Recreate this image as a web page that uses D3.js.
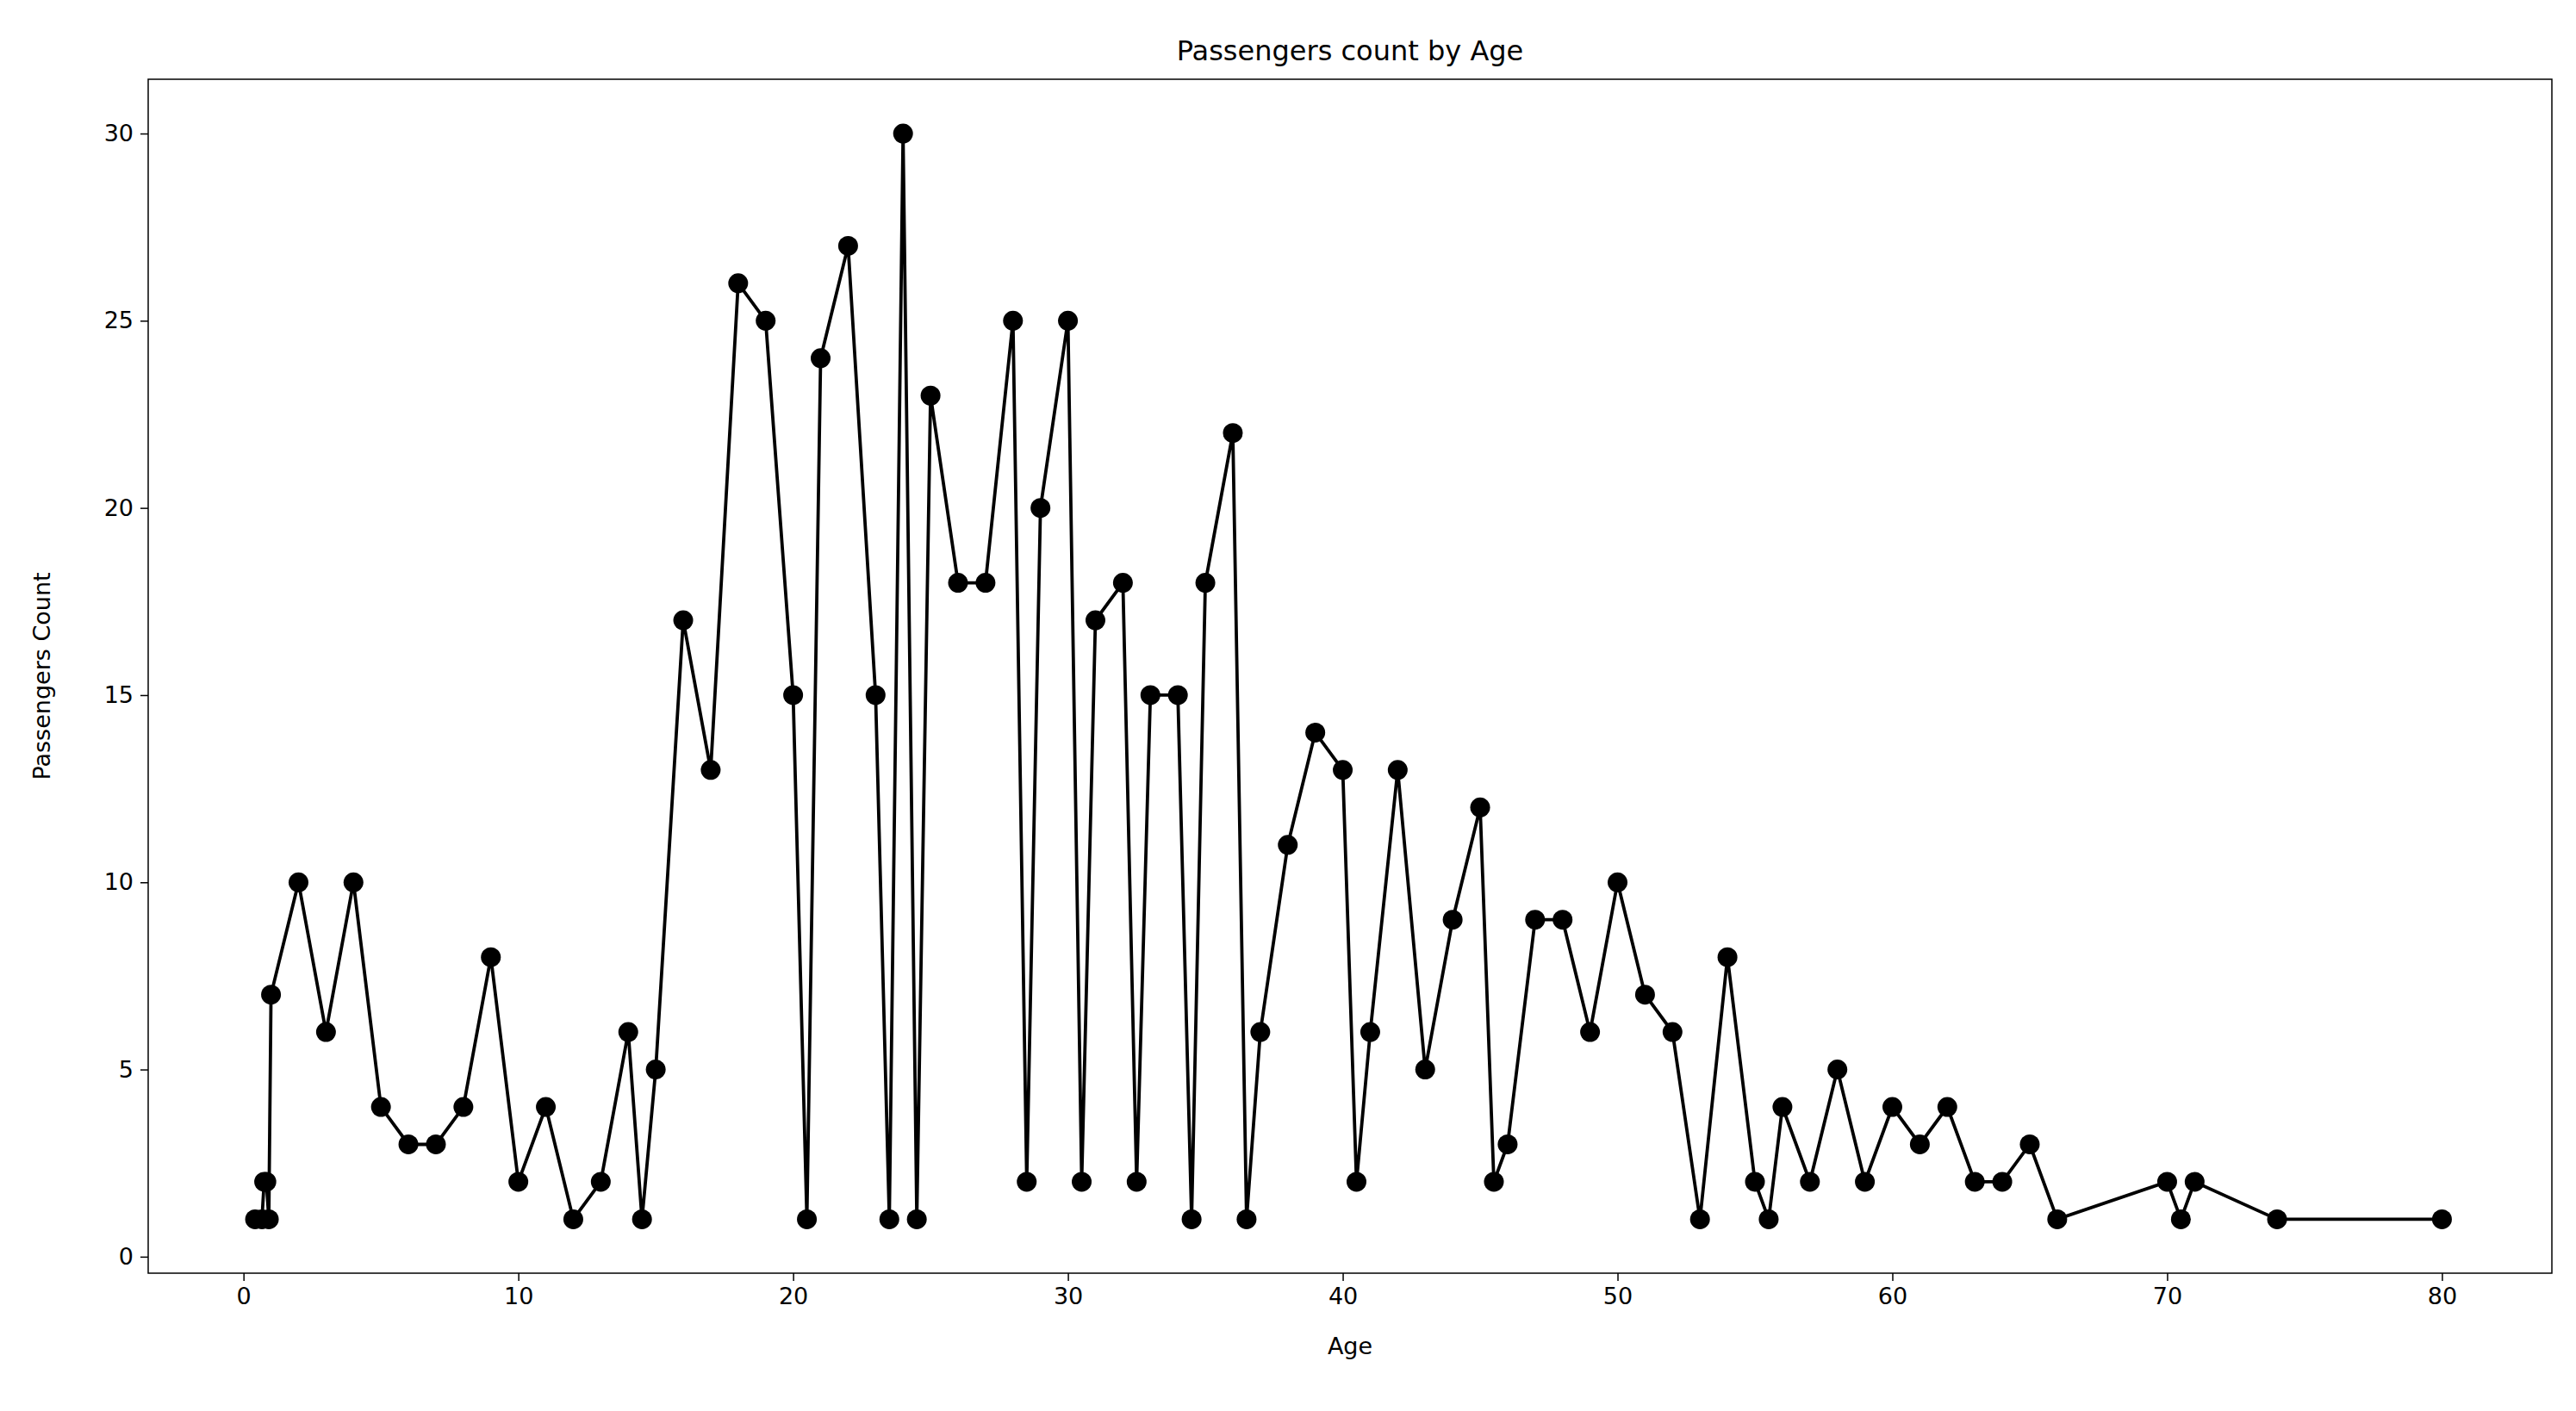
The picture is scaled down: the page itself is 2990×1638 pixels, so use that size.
<!DOCTYPE html>
<html><head><meta charset="utf-8">
<script src="https://cdn.jsdelivr.net/npm/d3@7"></script>
<style>body{margin:0;background:#fff}text{font-family:"DejaVu Sans",sans-serif}</style>
</head><body><svg id="chart"></svg>
<script>
// Age -> passenger count
let ages = [0.42,0.67,0.75,0.83,0.92,1,2,3,4,5,6,7,8,9,10,11,12,13,14,14.5,15,16,17,18,19,20,20.5,21,22,23,23.5,24,24.5,25,26,27,28,28.5,29,30,30.5,31,32,32.5,33,34,34.5,35,36,36.5,37,38,39,40,40.5,41,42,43,44,45,45.5,46,47,48,49,50,51,52,53,54,55,55.5,56,57,58,59,60,61,62,63,64,65,66,70,70.5,71,74,80];
let counts = [1,1,2,2,1,7,10,6,10,4,3,3,4,8,2,4,1,2,6,1,5,17,13,26,25,15,1,24,27,15,1,30,1,23,18,18,25,2,20,25,2,17,18,2,15,15,1,18,22,1,6,11,14,13,2,6,13,5,9,12,2,3,9,9,6,10,7,6,1,8,2,1,4,2,5,2,4,3,4,2,2,3,1,2,1,2,1,1];
let xTicks = [0,10,20,30,40,50,60,70,80];
let yTicks = [0,5,10,15,20,25,30];

let width = 2990, height = 1638;
let m = {left: 172, right: 28, top: 92, bottom: 160};
let svg = d3.select("#chart").attr("width", width).attr("height", height);

let x = d3.scaleLinear().domain([-3.47, 84.0]).range([m.left, width - m.right]);
let y = d3.scaleLinear().domain([-0.44, 31.45]).range([height - m.bottom, m.top]);

let xAxis = svg.append("g")
    .attr("transform", "translate(0," + (height - m.bottom) + ")")
    .call(d3.axisBottom(x).tickValues(xTicks).tickSize(9).tickPadding(8));
let yAxis = svg.append("g")
    .attr("transform", "translate(" + m.left + ",0)")
    .call(d3.axisLeft(y).tickValues(yTicks).tickSize(9).tickPadding(8));
[xAxis, yAxis].forEach(function (g) {
    g.select(".domain").remove();
    g.selectAll("line").attr("stroke", "#000").attr("stroke-width", 1.5);
    g.selectAll("text").attr("font-size", 27).attr("fill", "#000");
});

// Frame
svg.append("rect")
    .attr("x", m.left).attr("y", m.top)
    .attr("width", width - m.left - m.right)
    .attr("height", height - m.top - m.bottom)
    .attr("fill", "none").attr("stroke", "#000").attr("stroke-width", 1.5);

let data = ages.map(function (a, i) { return [a, counts[i]]; });

svg.append("path")
    .datum(data)
    .attr("fill", "none").attr("stroke", "#000").attr("stroke-width", 3.8)
    .attr("d", d3.line().x(function (d) { return x(d[0]); }).y(function (d) { return y(d[1]); }));

svg.append("g").selectAll("circle")
    .data(data).enter().append("circle")
    .attr("cx", function (d) { return x(d[0]); })
    .attr("cy", function (d) { return y(d[1]); })
    .attr("r", 11.5).attr("fill", "#000");

svg.append("text").attr("x", (m.left + width - m.right) / 2).attr("y", m.top - 22)
    .attr("text-anchor", "middle").attr("font-size", 32).text("Passengers count by Age");
svg.append("text").attr("x", (m.left + width - m.right) / 2).attr("y", height - m.bottom + 94)
    .attr("text-anchor", "middle").attr("font-size", 27).text("Age");
svg.append("text")
    .attr("transform", "translate(58," + ((m.top + height - m.bottom) / 2) + ") rotate(-90)")
    .attr("text-anchor", "middle").attr("font-size", 27).text("Passengers Count");
</script></body></html>
